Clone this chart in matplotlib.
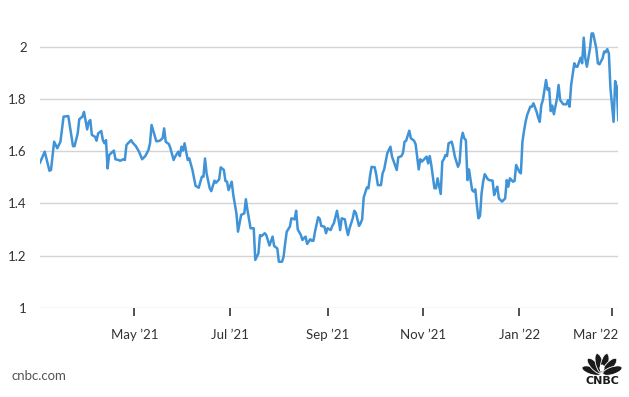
import numpy as np
import pandas as pd
import matplotlib
matplotlib.use("Agg")
import matplotlib.pyplot as plt
import matplotlib.transforms as mtransforms
from matplotlib.patches import Ellipse

plt.rcParams['font.family'] = ['Lato', 'DejaVu Sans']

# Datos: días desde 2021-03-01 y rendimiento (%)
inicio = pd.Timestamp('2021-03-01')
dias = [1, 4, 7, 8, 10, 12, 14, 16, 19, 22, 23, 25, 26, 28, 29, 31, 32, 33, 34, 36,
        37, 38, 40, 41, 42, 43, 44, 45, 48, 49, 51, 52, 54, 55, 56, 57, 59, 60, 62, 64,
        66, 68, 70, 71, 72, 75, 77, 79, 80, 81, 83, 84, 86, 87, 89, 90, 91, 92, 93, 95,
        96, 98, 100, 102, 104, 105, 106, 107, 109, 110, 112, 113, 115, 116, 118, 119, 120, 121, 123, 124,
        126, 127, 129, 131, 132, 133, 135, 137, 138, 140, 141, 142, 144, 145, 147, 149, 150, 152, 153, 155,
        156, 157, 158, 160, 161, 163, 164, 165, 167, 168, 169, 170, 171, 173, 174, 175, 176, 178, 179, 180,
        182, 183, 184, 186, 187, 188, 190, 191, 192, 193, 195, 196, 197, 198, 200, 201, 202, 204, 205, 206,
        207, 209, 210, 211, 212, 214, 215, 216, 218, 219, 220, 222, 224, 225, 228, 229, 231, 232, 233, 234,
        236, 237, 239, 240, 242, 243, 244, 245, 247, 248, 249, 250, 252, 253, 254, 256, 257, 258, 259, 260,
        261, 263, 264, 265, 267, 268, 269, 270, 271, 272, 273, 274, 275, 276, 277, 278, 279, 280, 281, 282,
        283, 284, 286, 287, 289, 290, 291, 292, 293, 294, 295, 297, 298, 299, 300, 302, 303, 304, 306, 307,
        308, 309, 310, 311, 313, 314, 315, 317, 318, 319, 320, 321, 323, 324, 325, 326, 327, 328, 330, 331,
        332, 334, 336, 337, 338, 339, 341, 342, 343, 345, 346, 347, 348, 349, 351, 352, 353, 355, 356, 357,
        359, 360, 361, 362, 363, 364, 366, 367, 368, 369]
rendimiento = [1.556, 1.598, 1.525, 1.528, 1.636, 1.611, 1.636, 1.732, 1.734, 1.619,
               1.619, 1.668, 1.722, 1.732, 1.750, 1.683, 1.712, 1.719, 1.662, 1.655,
               1.640, 1.668, 1.677, 1.642, 1.630, 1.642, 1.534, 1.585, 1.602, 1.569,
               1.566, 1.563, 1.569, 1.566, 1.623, 1.630, 1.642, 1.632, 1.619, 1.598,
               1.569, 1.581, 1.604, 1.630, 1.700, 1.638, 1.639, 1.649, 1.687, 1.636,
               1.627, 1.611, 1.566, 1.579, 1.598, 1.581, 1.617, 1.602, 1.630, 1.566,
               1.572, 1.528, 1.467, 1.460, 1.502, 1.502, 1.572, 1.515, 1.458, 1.447,
               1.487, 1.479, 1.492, 1.538, 1.528, 1.486, 1.483, 1.451, 1.483, 1.432,
               1.362, 1.292, 1.356, 1.362, 1.416, 1.375, 1.305, 1.305, 1.184, 1.209,
               1.279, 1.275, 1.286, 1.279, 1.239, 1.273, 1.237, 1.228, 1.177, 1.177,
               1.196, 1.247, 1.292, 1.311, 1.343, 1.339, 1.372, 1.301, 1.279, 1.260,
               1.267, 1.273, 1.245, 1.263, 1.257, 1.257, 1.292, 1.347, 1.341, 1.314,
               1.311, 1.286, 1.305, 1.298, 1.314, 1.324, 1.372, 1.337, 1.298, 1.343,
               1.339, 1.305, 1.279, 1.305, 1.343, 1.372, 1.364, 1.314, 1.324, 1.339,
               1.423, 1.461, 1.458, 1.505, 1.540, 1.538, 1.509, 1.470, 1.470, 1.515,
               1.530, 1.592, 1.617, 1.579, 1.528, 1.576, 1.581, 1.594, 1.636, 1.640,
               1.678, 1.649, 1.640, 1.627, 1.530, 1.569, 1.560, 1.566, 1.579, 1.553,
               1.581, 1.547, 1.458, 1.458, 1.496, 1.436, 1.560, 1.569, 1.585, 1.581,
               1.630, 1.636, 1.611, 1.579, 1.540, 1.556, 1.642, 1.670, 1.649, 1.642,
               1.489, 1.530, 1.489, 1.451, 1.445, 1.454, 1.394, 1.343, 1.352, 1.439,
               1.483, 1.512, 1.492, 1.489, 1.487, 1.432, 1.451, 1.464, 1.419, 1.413,
               1.407, 1.419, 1.489, 1.464, 1.496, 1.483, 1.486, 1.547, 1.521, 1.515,
               1.636, 1.677, 1.712, 1.738, 1.770, 1.770, 1.783, 1.751, 1.728, 1.712,
               1.776, 1.795, 1.872, 1.834, 1.840, 1.753, 1.774, 1.741, 1.802, 1.853,
               1.795, 1.779, 1.779, 1.795, 1.770, 1.853, 1.936, 1.923, 1.923, 1.957,
               1.936, 2.034, 1.955, 1.923, 1.993, 2.050, 2.050, 1.993, 1.936, 1.932,
               1.955, 1.981, 1.978, 1.990, 1.974, 1.840, 1.712, 1.868, 1.847, 1.719]

fechas_ticks = ['2021-05-01', '2021-07-01', '2021-09-01', '2021-11-01', '2022-01-01', '2022-03-01']
etiquetas_x = ['May \u201921', 'Jul \u201921', 'Sep \u201921', 'Nov \u201921', 'Jan \u201922', 'Mar \u201922']
valores_y = [1, 1.2, 1.4, 1.6, 1.8, 2]
etiquetas_y = ['1', '1.2', '1.4', '1.6', '1.8', '2']

fechas = inicio + pd.to_timedelta(dias, unit='D')

W, H = 629, 397
fig = plt.figure(figsize=(W / 100, H / 100), dpi=100)
ax = fig.add_axes([40 / W, (H - 308) / H, 578.3 / W, 287.6 / H])

ax.plot(fechas, rendimiento, color='#3f93d6', lw=1.8, solid_joinstyle='round')

ax.set_xlim(inicio + pd.Timedelta(days=1), inicio + pd.Timedelta(days=369))
ax.set_ylim(1, 2.1)

ax.set_yticks(valores_y)
ax.set_yticklabels(etiquetas_y)
ax.set_xticks(pd.to_datetime(fechas_ticks))
ax.set_xticklabels(etiquetas_x)

ax.grid(axis='y', color='#d4d4d4', lw=1)
ax.set_axisbelow(True)
for s in ax.spines.values():
    s.set_visible(False)

ax.tick_params(axis='y', length=0, pad=9.5, labelsize=9.5, labelcolor='#333333')
ax.tick_params(axis='x', length=6, width=1.1, color='#222222', pad=9,
               labelsize=9.5, labelcolor='#333333')

# la última etiqueta queda alineada a la derecha para no salirse
ultima = ax.get_xticklabels()[-1]
ultima.set_ha('right')
ultima.set_transform(ultima.get_transform() +
                     mtransforms.ScaledTranslation(6 / 100, 0, fig.dpi_scale_trans))

# pie de página
fig.text(12 / W, 1 - 376 / H, 'cnbc.com', fontsize=9.5, color='#555555',
         va='center', ha='left')

# logo aproximado (pavo real + texto)
logo = fig.add_axes([581 / W, (H - 376) / H, 42 / W, 26 / H])
logo.set_xlim(-21, 21)
logo.set_ylim(0, 26)
logo.axis('off')
for ang in [-72, -43, -14, 14, 43, 72]:
    r = np.radians(ang)
    logo.add_patch(Ellipse((11 * np.sin(r), 11 * np.cos(r) + 2), 7.5, 20,
                           angle=-ang, facecolor='#1a1a1a', edgecolor='white', lw=0.6))
logo.add_patch(Ellipse((0, 8), 5, 7, color='white', lw=0))
fig.text(602 / W, 1 - 381 / H, 'CNBC', fontsize=8, fontweight='heavy',
         color='#1a1a1a', ha='center', va='center', family=['DejaVu Sans'])

fig.savefig('out.png', dpi=100)
